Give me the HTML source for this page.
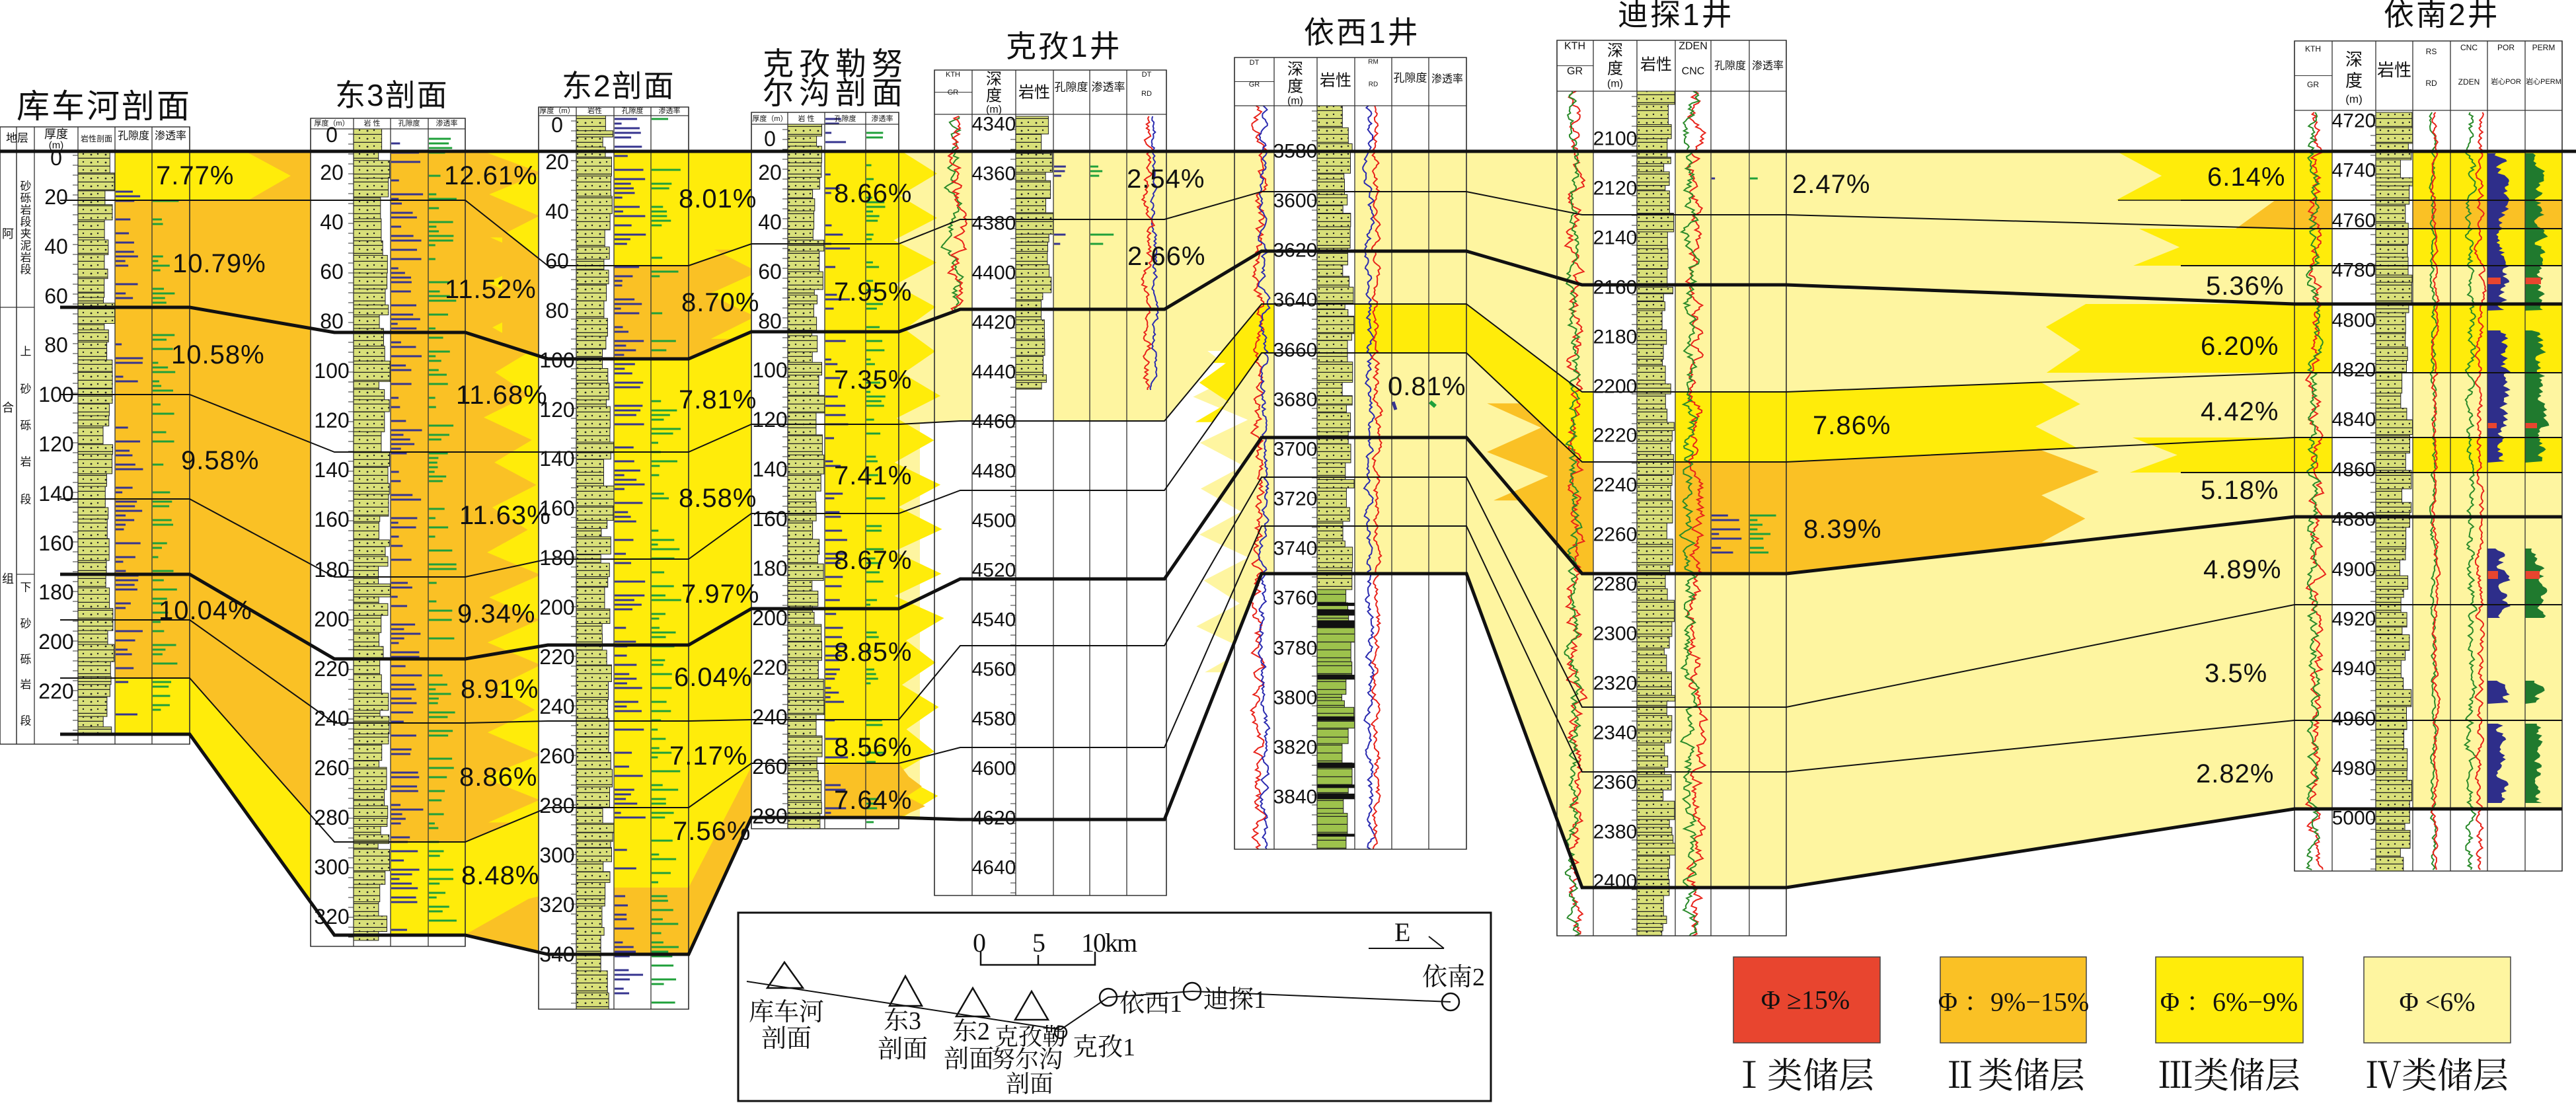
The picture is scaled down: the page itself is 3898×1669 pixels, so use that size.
<!DOCTYPE html>
<html><head><meta charset="utf-8"><style>
html,body{margin:0;padding:0;background:#fff;}
svg{display:block;}
.t{font-family:"Liberation Sans","Noto Sans CJK SC",sans-serif;fill:#111;}
.s{font-family:"Liberation Serif","Noto Serif CJK SC",serif;fill:#111;}
.d{font-family:"Liberation Sans",sans-serif;font-size:32px;text-anchor:middle;dominant-baseline:central;fill:#111;}
.d4{font-family:"Liberation Sans",sans-serif;font-size:30px;text-anchor:middle;dominant-baseline:central;fill:#111;}
.p{font-family:"Liberation Sans",sans-serif;font-size:40px;dominant-baseline:central;fill:#111;letter-spacing:1px;}
.h{font-family:"Liberation Sans","Noto Sans CJK SC",sans-serif;text-anchor:middle;dominant-baseline:central;fill:#111;}
</style></head><body>
<svg id="sv" xmlns="http://www.w3.org/2000/svg" width="3898" height="1669" viewBox="0 0 3898 1669">
<defs>
<pattern id="lp" width="22" height="12" patternUnits="userSpaceOnUse"><rect width="22" height="12" fill="#D9E079"/><line x1="0" y1="11.4" x2="22" y2="11.4" stroke="#222" stroke-width="1.3"/><circle cx="6" cy="6" r="1.4" fill="#222"/><circle cx="16" cy="5" r="1.2" fill="#222"/></pattern>
<pattern id="lg" width="22" height="12" patternUnits="userSpaceOnUse"><rect width="22" height="12" fill="#9DC24C"/><line x1="0" y1="11.4" x2="22" y2="11.4" stroke="#222" stroke-width="1.2"/></pattern>
</defs>
<g id="gen"></g>
<g id="txt">
<!-- titles -->
<text class="t" x="25" y="178" font-size="50" letter-spacing="3">库车河剖面</text>
<text class="t" x="507" y="160" font-size="46" letter-spacing="2">东3剖面</text>
<text class="t" x="850" y="146" font-size="46" letter-spacing="2">东2剖面</text>
<text class="t" x="1154" y="113" font-size="47" letter-spacing="8">克孜勒努</text>
<text class="t" x="1154" y="157" font-size="47" letter-spacing="8">尔沟剖面</text>
<text class="t" x="1522" y="86" font-size="46" letter-spacing="3">克孜1井</text>
<text class="t" x="1973" y="65" font-size="46" letter-spacing="3">依西1井</text>
<text class="t" x="2448" y="38" font-size="46" letter-spacing="3">迪探1井</text>
<text class="t" x="3607" y="38" font-size="46" letter-spacing="3">依南2井</text>

<!-- S1 header -->
<text class="h" x="26" y="209" font-size="17">地层</text>
<text class="h" x="85" y="203" font-size="18">厚度</text>
<text class="h" x="85" y="220" font-size="15">(m)</text>
<text class="h" x="146" y="210" font-size="12">岩性剖面</text>
<text class="h" x="202" y="206" font-size="16">孔隙度</text>
<text class="h" x="258" y="206" font-size="16">渗透率</text>
<text class="h" x="12" y="354" font-size="18">阿</text>
<text class="h" x="12" y="617" font-size="18">合</text>
<text class="h" x="12" y="876" font-size="18">组</text>
<g class="h" font-size="17">
<text x="39" y="282">砂</text><text x="39" y="300">砾</text><text x="39" y="318">岩</text><text x="39" y="336">段</text><text x="39" y="354">夹</text><text x="39" y="372">泥</text><text x="39" y="390">岩</text><text x="39" y="408">段</text>
<text x="39" y="532">上</text><text x="39" y="589">砂</text><text x="39" y="644">砾</text><text x="39" y="699">岩</text><text x="39" y="756">段</text>
<text x="39" y="889">下</text><text x="39" y="944">砂</text><text x="39" y="998">砾</text><text x="39" y="1036">岩</text><text x="39" y="1091">段</text>
</g>
<!-- small headers S2-S4 -->
<g class="h" font-size="11">
<text x="502" y="187">厚度（m）</text><text x="563" y="187">岩 性</text><text x="619" y="187">孔隙度</text><text x="676" y="187">渗透率</text>
<text x="843" y="168">厚度（m）</text><text x="900" y="168">岩性</text><text x="957" y="168">孔隙度</text><text x="1013" y="168">渗透率</text>
<text x="1165" y="180">厚度（m）</text><text x="1220" y="180">岩 性</text><text x="1279" y="180">孔隙度</text><text x="1335" y="180">渗透率</text>
</g>
<!-- S5 header -->
<g class="h">
<text x="1442" y="113" font-size="11">KTH</text><text x="1442" y="140" font-size="11">GR</text>
<text x="1504" y="120" font-size="24">深</text><text x="1504" y="145" font-size="24">度</text><text x="1504" y="166" font-size="16">(m)</text>
<text x="1565" y="140" font-size="24">岩性</text>
<text x="1621" y="132" font-size="17">孔隙度</text><text x="1677" y="132" font-size="17">渗透率</text>
<text x="1735" y="113" font-size="11">DT</text><text x="1735" y="142" font-size="11">RD</text>
<!-- S6 -->
<text x="1898" y="95" font-size="11">DT</text><text x="1898" y="128" font-size="11">GR</text>
<text x="1960" y="105" font-size="24">深</text><text x="1960" y="131" font-size="24">度</text><text x="1960" y="153" font-size="16">(m)</text>
<text x="2021" y="122" font-size="24">岩性</text>
<text x="2078" y="94" font-size="10">RM</text><text x="2078" y="128" font-size="10">RD</text>
<text x="2134" y="118" font-size="17">孔隙度</text><text x="2190" y="120" font-size="16">渗透率</text>
<!-- S7 -->
<text x="2383" y="70" font-size="16">KTH</text><text x="2383" y="108" font-size="16">GR</text>
<text x="2444" y="77" font-size="24">深</text><text x="2444" y="104" font-size="24">度</text><text x="2444" y="127" font-size="16">(m)</text>
<text x="2506" y="98" font-size="24">岩性</text>
<text x="2562" y="70" font-size="16">ZDEN</text><text x="2562" y="108" font-size="16">CNC</text>
<text x="2618" y="100" font-size="16">孔隙度</text><text x="2675" y="100" font-size="16">渗透率</text>
<!-- S8 -->
<text x="3500" y="74" font-size="12">KTH</text><text x="3500" y="128" font-size="12">GR</text>
<text x="3562" y="90" font-size="26">深</text><text x="3562" y="122" font-size="26">度</text><text x="3562" y="150" font-size="17">(m)</text>
<text x="3623" y="106" font-size="26">岩性</text>
<text x="3679" y="78" font-size="12">RS</text><text x="3679" y="126" font-size="12">RD</text>
<text x="3736" y="72" font-size="12">CNC</text><text x="3736" y="124" font-size="12">ZDEN</text>
<text x="3792" y="72" font-size="12">POR</text><text x="3792" y="124" font-size="11">岩心POR</text>
<text x="3849" y="72" font-size="12">PERM</text><text x="3849" y="124" font-size="11">岩心PERM</text>
</g>

<!-- depth labels -->
<g class="d">
<text x="85" y="239">0</text><text x="85" y="298">20</text><text x="85" y="373">40</text><text x="85" y="448">60</text><text x="85" y="522">80</text><text x="85" y="597">100</text><text x="85" y="672">120</text><text x="85" y="747">140</text><text x="85" y="822">160</text><text x="85" y="896">180</text><text x="85" y="971">200</text><text x="85" y="1046">220</text>
<text x="502" y="204">0</text><text x="502" y="261">20</text><text x="502" y="336">40</text><text x="502" y="411">60</text><text x="502" y="486">80</text><text x="502" y="561">100</text><text x="502" y="636">120</text><text x="502" y="711">140</text><text x="502" y="786">160</text><text x="502" y="862">180</text><text x="502" y="937">200</text><text x="502" y="1012">220</text><text x="502" y="1087">240</text><text x="502" y="1162">260</text><text x="502" y="1237">280</text><text x="502" y="1312">300</text><text x="502" y="1387">320</text>
<text x="843" y="189">0</text><text x="843" y="245">20</text><text x="843" y="320">40</text><text x="843" y="395">60</text><text x="843" y="470">80</text><text x="843" y="545">100</text><text x="843" y="620">120</text><text x="843" y="694">140</text><text x="843" y="769">160</text><text x="843" y="844">180</text><text x="843" y="919">200</text><text x="843" y="994">220</text><text x="843" y="1069">240</text><text x="843" y="1144">260</text><text x="843" y="1219">280</text><text x="843" y="1294">300</text><text x="843" y="1369">320</text><text x="843" y="1444">340</text>
<text x="1165" y="210">0</text><text x="1165" y="261">20</text><text x="1165" y="336">40</text><text x="1165" y="411">60</text><text x="1165" y="486">80</text><text x="1165" y="560">100</text><text x="1165" y="635">120</text><text x="1165" y="710">140</text><text x="1165" y="785">160</text><text x="1165" y="860">180</text><text x="1165" y="935">200</text><text x="1165" y="1010">220</text><text x="1165" y="1085">240</text><text x="1165" y="1160">260</text><text x="1165" y="1235">280</text>
</g>
<g class="d4">
<text x="1504" y="188">4340</text><text x="1504" y="263">4360</text><text x="1504" y="338">4380</text><text x="1504" y="413">4400</text><text x="1504" y="488">4420</text><text x="1504" y="563">4440</text><text x="1504" y="638">4460</text><text x="1504" y="713">4480</text><text x="1504" y="788">4500</text><text x="1504" y="863">4520</text><text x="1504" y="938">4540</text><text x="1504" y="1013">4560</text><text x="1504" y="1088">4580</text><text x="1504" y="1163">4600</text><text x="1504" y="1238">4620</text><text x="1504" y="1313">4640</text>
<text x="1960" y="229">3580</text><text x="1960" y="304">3600</text><text x="1960" y="379">3620</text><text x="1960" y="454">3640</text><text x="1960" y="530">3660</text><text x="1960" y="605">3680</text><text x="1960" y="680">3700</text><text x="1960" y="755">3720</text><text x="1960" y="830">3740</text><text x="1960" y="905">3760</text><text x="1960" y="981">3780</text><text x="1960" y="1056">3800</text><text x="1960" y="1131">3820</text><text x="1960" y="1206">3840</text>
<text x="2444" y="210">2100</text><text x="2444" y="285">2120</text><text x="2444" y="360">2140</text><text x="2444" y="435">2160</text><text x="2444" y="510">2180</text><text x="2444" y="585">2200</text><text x="2444" y="659">2220</text><text x="2444" y="734">2240</text><text x="2444" y="809">2260</text><text x="2444" y="884">2280</text><text x="2444" y="959">2300</text><text x="2444" y="1034">2320</text><text x="2444" y="1109">2340</text><text x="2444" y="1184">2360</text><text x="2444" y="1259">2380</text><text x="2444" y="1334">2400</text>
<text x="3562" y="183">4720</text><text x="3562" y="258">4740</text><text x="3562" y="334">4760</text><text x="3562" y="409">4780</text><text x="3562" y="485">4800</text><text x="3562" y="560">4820</text><text x="3562" y="635">4840</text><text x="3562" y="711">4860</text><text x="3562" y="786">4880</text><text x="3562" y="862">4900</text><text x="3562" y="937">4920</text><text x="3562" y="1012">4940</text><text x="3562" y="1088">4960</text><text x="3562" y="1163">4980</text><text x="3562" y="1238">5000</text>
</g>

<!-- percentages -->
<g class="p">
<text x="236" y="266">7.77%</text><text x="261" y="399">10.79%</text><text x="259" y="537">10.58%</text><text x="274" y="697">9.58%</text><text x="240" y="924">10.04%</text>
<text x="672" y="266">12.61%</text><text x="673" y="438">11.52%</text><text x="690" y="598">11.68%</text><text x="695" y="780">11.63%</text><text x="692" y="929">9.34%</text><text x="697" y="1043">8.91%</text><text x="695" y="1176">8.86%</text><text x="698" y="1325">8.48%</text>
<text x="1027" y="301">8.01%</text><text x="1031" y="458">8.70%</text><text x="1027" y="605">7.81%</text><text x="1027" y="754">8.58%</text><text x="1031" y="899">7.97%</text><text x="1020" y="1025">6.04%</text><text x="1013" y="1144">7.17%</text><text x="1018" y="1258">7.56%</text>
<text x="1262" y="293">8.66%</text><text x="1262" y="442">7.95%</text><text x="1262" y="575">7.35%</text><text x="1262" y="720">7.41%</text><text x="1262" y="848">8.67%</text><text x="1262" y="987">8.85%</text><text x="1262" y="1131">8.56%</text><text x="1262" y="1211">7.64%</text>
<text x="1705" y="271">2.54%</text><text x="1706" y="388">2.66%</text><text x="2100" y="585">0.81%</text>
<text x="2712" y="279">2.47%</text><text x="2743" y="644">7.86%</text><text x="2729" y="801">8.39%</text>
<text x="3340" y="268">6.14%</text><text x="3338" y="433">5.36%</text><text x="3330" y="524">6.20%</text><text x="3330" y="623">4.42%</text><text x="3330" y="742">5.18%</text><text x="3334" y="862">4.89%</text><text x="3336" y="1019">3.5%</text><text x="3323" y="1171">2.82%</text>
</g>

<!-- map box -->
<rect x="1117" y="1381" width="1139" height="285" fill="none" stroke="#111" stroke-width="3"/>
<polyline points="1130,1485 1605,1558 1677,1509 1804,1500 2195,1516" fill="none" stroke="#111" stroke-width="2"/>
<polygon points="1187,1456 1161,1495 1215,1495" fill="none" stroke="#111" stroke-width="2.5"/>
<polygon points="1370,1477 1346,1522 1395,1522" fill="none" stroke="#111" stroke-width="2.5"/>
<polygon points="1472,1495 1447,1538 1497,1538" fill="none" stroke="#111" stroke-width="2.5"/>
<polygon points="1561,1500 1536,1543 1586,1543" fill="none" stroke="#111" stroke-width="2.5"/>
<circle cx="1605" cy="1562" r="9" fill="none" stroke="#111" stroke-width="2.5"/>
<circle cx="1677" cy="1509" r="13" fill="none" stroke="#111" stroke-width="2.5"/>
<circle cx="1804" cy="1500" r="13" fill="none" stroke="#111" stroke-width="2.5"/>
<circle cx="2195" cy="1516" r="13" fill="none" stroke="#111" stroke-width="2.5"/>
<polyline points="1484,1440 1484,1460 1657,1460 1657,1440" fill="none" stroke="#111" stroke-width="2.5"/>
<line x1="1571" y1="1445" x2="1571" y2="1460" stroke="#111" stroke-width="2.5"/>
<line x1="2071" y1="1435" x2="2185" y2="1435" stroke="#111" stroke-width="2"/>
<line x1="2162" y1="1417" x2="2185" y2="1435" stroke="#111" stroke-width="2"/>
<g class="s" font-size="40">
<text x="1472" y="1440">0</text><text x="1562" y="1440">5</text><text x="1636" y="1440" letter-spacing="-2">10km</text>
<text x="2110" y="1424">E</text>
<text x="1133" y="1544" font-size="38">库车河</text><text x="1152" y="1584" font-size="38">剖面</text>
<text x="1337" y="1557" font-size="38">东3</text><text x="1328" y="1600" font-size="38">剖面</text>
<text x="1441" y="1573" font-size="38">东2</text><text x="1428" y="1615" font-size="38">剖面</text>
<text x="1505" y="1581" font-size="36">克孜勒</text><text x="1500" y="1615" font-size="36">努尔沟</text><text x="1522" y="1652" font-size="36">剖面</text>
<text x="1623" y="1597" font-size="38">克孜1</text>
<text x="1694" y="1531" font-size="38">依西1</text>
<text x="1821" y="1525" font-size="38">迪探1</text>
<text x="2152" y="1491" font-size="38">依南2</text>
</g>

<!-- legend -->
<rect x="2623" y="1448" width="222" height="130" fill="#E8452F" stroke="#444" stroke-width="1.5"/>
<rect x="2936" y="1448" width="221" height="130" fill="#FAC125" stroke="#444" stroke-width="1.5"/>
<rect x="3262" y="1448" width="223" height="130" fill="#FFEC0A" stroke="#444" stroke-width="1.5"/>
<rect x="3577" y="1448" width="222" height="130" fill="#FEF5A0" stroke="#444" stroke-width="1.5"/>
<g class="s" font-size="40" text-anchor="middle" dominant-baseline="central">
<text x="2732" y="1513">Φ ≥15%</text>
<text x="3047" y="1516">Φ ：9%−15%</text>
<text x="3373" y="1516">Φ ：6%−9%</text>
<text x="3688" y="1516">Φ &lt;6%</text>
</g>
<g class="s" font-size="54" text-anchor="middle" dominant-baseline="central">
<text x="2728" y="1628">Ⅰ类储层</text>
<text x="3047" y="1628">Ⅱ类储层</text>
<text x="3373" y="1628">Ⅲ类储层</text>
<text x="3688" y="1628">Ⅳ类储层</text>
</g>
</g>
</svg>
<script>
(function(){
var s=7;function R(){s|=0;s=s+0x6D2B79F5|0;var t=Math.imul(s^s>>>15,1|s);t=t+Math.imul(t^t>>>7,61|t)^t;return((t^t>>>14)>>>0)/4294967296;}
var out=[];
function P(a){return a.map(function(p){return p[0].toFixed(1)+','+p[1].toFixed(1)}).join(' ');}
var XA=[0,287,506,704,829,1042,1137,1360,1453,1762,1909,2219,2394,2703,3472,3877];
var HY=[
[229,229,229,229,229,229,229,229],
[303,303,402,369,332,290,325,346],
[465,503,543,502,468,380,431,460],
[597,684,684,642,637,460,593,564],
[755,873,846,777,742,534,699,662],
[869,997,976,921,876,662,868,782],
[938,1094,1091,1089,977,722,1070,915],
[1026,1274,1222,1155,1131,796,1168,1090],
[1111,1415,1444,1237,1240,868,1343,1224]];
function hp(i){var r=[];for(var k=0;k<8;k++){r.push([XA[2*k],HY[i][k]]);r.push([XA[2*k+1],HY[i][k]]);}return r;}
function yAt(i,x){var p=hp(i);for(var k=0;k<p.length-1;k++){if(x>=p[k][0]&&x<=p[k+1][0]){var t=(x-p[k][0])/((p[k+1][0]-p[k][0])||1);return p[k][1]+t*(p[k+1][1]-p[k][1]);}}return p[p.length-1][1];}
function seg(i,a,b){var r=[[a,yAt(i,a)]];hp(i).forEach(function(p){if(p[0]>a&&p[0]<b)r.push(p)});r.push([b,yAt(i,b)]);return r;}
function teeth(x,y0,y1,d){var r=[],n=Math.max(1,Math.round(Math.abs(y1-y0)/34));for(var k=0;k<=n;k++){var y=y0+(y1-y0)*k/n;r.push([x+(k%2?d:-d)*(0.5+R()*0.5),y]);}return r;}
function band(a,b,xa,xb,c,lt,rt){var pts=seg(a,xa,xb);if(rt)pts=pts.concat(teeth(xb,yAt(a,xb),yAt(b,xb),rt));pts=pts.concat(seg(b,xa,xb).reverse());if(lt)pts=pts.concat(teeth(xa,yAt(b,xa),yAt(a,xa),lt));out.push('<polygon points="'+P(pts)+'" fill="'+c+'"/>');}
function poly(pts,c){out.push('<polygon points="'+P(pts)+'" fill="'+c+'"/>');}
function rect(x,y,w,h,f,st){out.push('<rect x="'+x+'" y="'+y+'" width="'+w+'" height="'+h+'" fill="'+f+'"'+(st?' stroke="'+st+'" stroke-width="1.5"':'')+'/>');}
function line(x1,y1,x2,y2,c,w){out.push('<line x1="'+x1+'" y1="'+y1+'" x2="'+x2+'" y2="'+y2+'" stroke="'+c+'" stroke-width="'+w+'"/>');}
var LY='#FEF5A0',Y='#FFEC0A',O='#FAC125',RED='#E8452F';
var S=[
{c:[0,25,52,118,174,230,287],t:192,hb:227,b:1126,dep:2,lith:3,lr:[228,1111]},
{c:[470,535,591,648,704],t:179,hb:195,b:1432,dep:0,lith:1,lr:[195,1423]},
{c:[815,872,929,985,1042],t:162,hb:175,b:1527,dep:0,lith:1,lr:[175,1527]},
{c:[1137,1192,1248,1310,1360],t:170,hb:188,b:1254,dep:0,lith:1,lr:[188,1254]},
{c:[1414,1471,1537,1594,1649,1705,1765],t:106,hb:173,b:1355,dep:1,lith:2,lr:[176,589]},
{c:[1868,1928,1993,2050,2106,2162,2219],t:87,hb:160,b:1285,dep:1,lith:2,lr:[160,1285]},
{c:[2356,2411,2477,2535,2589,2647,2703],t:61,hb:138,b:1416,dep:1,lith:2,lr:[138,1416]},
{c:[3472,3529,3595,3651,3708,3764,3821,3877],t:62,hb:167,b:1318,dep:1,lith:2,lr:[170,1318]}];
// frames
S.forEach(function(q){rect(q.c[0],q.t,q.c[q.c.length-1]-q.c[0],q.b-q.t,'#fff');});
// bands
band(0,8,0,3877,LY);
band(3,8,1392,1850,'#fff',0,45);
band(0,8,0,1392,Y,0,40);
band(1,7,0,775,O,0,45);
band(0,1,410,775,O,45,45);
band(1,2,760,1112,O,0,40);
poly([[706,1413],[800,1360],[870,1343],[1042,1343],[1137,1160],[1360,1155],[1375,1175],[1395,1190],[1372,1205],[1400,1220],[1360,1237],[1137,1237],[1042,1444],[829,1444]],O);
band(3,4,1835,3115,Y,40,40);
band(4,5,2300,3130,O,50,50);
// 依南2 intrusions
function wedge(x0,ya,yb,c){var pts=[[x0,ya],[3877,ya],[3877,yb],[x0+60,yb]];pts=pts.concat(teeth(x0+30,yb,ya,40));poly(pts,c);}
wedge(3205,229,303,Y);
wedge(3390,303,346,O);
wedge(3238,346,402,Y);
wedge(3090,460,564,Y);
wedge(3230,662,715,Y);
// white depth + lith columns
S.forEach(function(q,i){
 var d0=q.c[q.dep],d1=q.c[q.dep+1];rect(d0,q.hb,d1-d0,q.b-q.hb,'#fff');
 var l0=q.c[q.lith],l1=q.c[q.lith+1];rect(l0,q.hb,l1-l0,q.b-q.hb,'#fff');
 if(i==0)rect(0,q.hb,52,q.b-q.hb,'#fff');
 var y=q.lr[0];while(y<q.lr[1]){var h=8+R()*26;if(y+h>q.lr[1])h=q.lr[1]-y;var w=(l1-l0)*(0.65+R()*0.35);
  var pat=(i==5&&y>868)?'url(#lg)':'url(#lp)';out.push('<rect x="'+l0+'" y="'+y.toFixed(1)+'" width="'+w.toFixed(1)+'" height="'+h.toFixed(1)+'" fill="'+pat+'" stroke="#222" stroke-width="1"/>');
  if(i==5&&y>868&&R()<0.35)rect(l0,y,l1-l0,4+R()*8,'#111');
  y+=h;}
 // ticks on depth col
 for(var t=q.hb+8;t<q.b;t+=15)line(d1-8,t,d1,t,'#333',1);
});
// bars
function bars(x0,x1,y0,y1,c,dens,mf){for(var y=y0;y<y1;y+=7){if(R()<dens){var w=(x1-x0)*mf*(0.2+R()*0.8);line(x0+1,y,x0+1+w,y,c,3);}}}
var BL='#36348F',GN='#1FA03A';
bars(174,230,290,1105,BL,0.45,0.75);bars(230,287,290,1105,GN,0.4,0.7);
bars(591,648,210,1420,BL,0.5,0.85);bars(648,704,210,1420,GN,0.45,0.75);
bars(929,985,180,1520,BL,0.5,0.85);bars(985,1042,180,1520,GN,0.45,0.8);
bars(1248,1310,180,1250,BL,0.4,0.6);bars(1310,1360,180,1250,GN,0.4,0.6);
bars(1594,1649,252,270,BL,0.9,0.35);bars(1649,1705,252,270,GN,0.9,0.6);
bars(1594,1649,355,375,BL,0.9,0.35);bars(1649,1705,355,375,GN,0.9,0.7);
bars(2589,2647,270,290,BL,0.6,0.4);bars(2647,2703,270,290,GN,0.6,0.4);
bars(2589,2647,780,840,BL,0.8,0.8);bars(2647,2703,780,840,GN,0.8,0.8);
line(2108,608,2112,620,BL,5);line(2164,608,2172,615,GN,6);
// curves
function curve(x0,x1,y0,y1,c,cf,amp,sw){var pts=[],v=0;for(var y=y0;y<=y1;y+=3){v=v*0.75+(R()-0.5)*amp;var x=x0+(x1-x0)*cf+v;x=Math.max(x0+2,Math.min(x1-2,x));pts.push([x,y]);}out.push('<polyline points="'+P(pts)+'" fill="none" stroke="'+c+'" stroke-width="'+(sw||2)+'"/>');}
var CR='#E8231B',CG='#2A8A2A',CB='#2B2BB0';
curve(1414,1471,176,470,CG,0.55,14);curve(1414,1471,176,470,CR,0.6,14);
curve(1705,1765,176,590,CB,0.7,6);curve(1705,1765,176,590,CR,0.55,10);
curve(1868,1928,160,1285,CR,0.6,12);curve(1868,1928,160,1285,CB,0.75,8);
curve(2050,2106,160,1285,CB,0.4,8);curve(2050,2106,160,1285,CR,0.6,8);
curve(2356,2411,138,1416,CR,0.5,14);curve(2356,2411,138,1416,CG,0.45,12);
curve(2535,2589,138,1416,CR,0.6,14);curve(2535,2589,138,1416,CG,0.4,14);
curve(3472,3529,170,1318,CR,0.55,12);curve(3472,3529,170,1318,CG,0.5,12);
curve(3651,3708,170,1318,CG,0.55,6);curve(3651,3708,170,1318,CR,0.6,6);
curve(3708,3764,170,1318,CG,0.55,10);curve(3708,3764,170,1318,CR,0.8,8);
// POR/PERM fills
function spikes(x0,x1,ivs,c){ivs.forEach(function(iv){var pts=[[x0,iv[0]]],v=0;for(var y=iv[0];y<=iv[1];y+=3){v=v*0.6+R()*0.5;pts.push([x0+(x1-x0)*Math.min(0.85,v*0.5+0.1),y]);}pts.push([x0,iv[1]]);poly(pts,c);});}
var IV=[[232,470],[500,700],[830,935],[1030,1065],[1095,1215]];
spikes(3764,3821,IV,'#2E2E8A');spikes(3821,3877,IV,'#207A2E');
rect(3764,420,20,10,RED);rect(3821,420,24,10,RED);rect(3764,640,14,8,RED);rect(3821,640,18,8,RED);rect(3764,864,16,12,RED);rect(3821,864,22,12,RED);
// borders
S.forEach(function(q,i){var x0=q.c[0],x1=q.c[q.c.length-1];
 out.push('<rect x="'+x0+'" y="'+q.t+'" width="'+(x1-x0)+'" height="'+(q.b-q.t)+'" fill="none" stroke="#333" stroke-width="1.5"/>');
 q.c.forEach(function(x){line(x,q.t,x,q.b,'#333',1.3);});
 line(x0,q.hb,x1,q.hb,'#333',1.3);
 if(i>=4){var m=(q.t+q.hb)/2;line(q.c[0],m,q.c[1],m,'#333',1);}
});
line(0,465,52,465,'#333',1.3);line(25,869,52,869,'#333',1.3);line(25,227,25,1126,'#333',1.3);
// horizons
for(var i=0;i<9;i++){var th=(i==0||i==2||i==5||i==8);var p=hp(i);if(i>0)p[0]=[91,p[0][1]];else p[p.length-1]=[3898,229];
 out.push('<polyline points="'+P(p)+'" fill="none" stroke="#111" stroke-width="'+(th?5:2)+'"/>');}
[303,402,715].forEach(function(y){line(3300,y,3877,y,'#111',2);});
line(3205,303,3472,303,'#111',1.5);
document.getElementById('gen').innerHTML=out.join('');
})();
</script>
</body></html>
